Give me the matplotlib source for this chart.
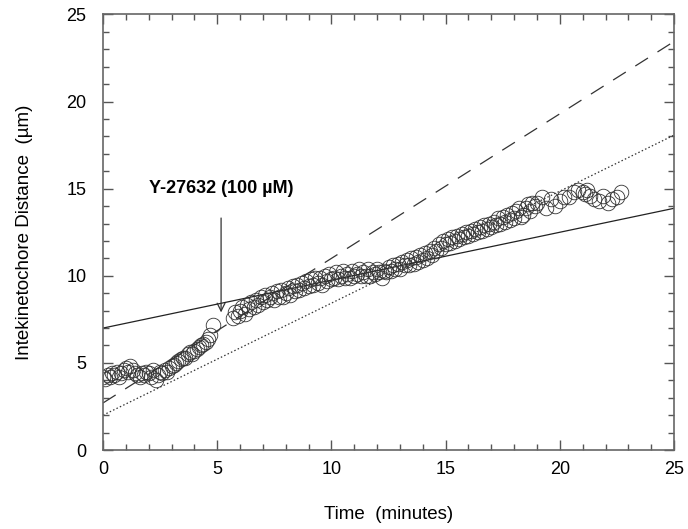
import numpy as np
import matplotlib
matplotlib.use('Agg')
import matplotlib.pyplot as plt
from matplotlib.ticker import MultipleLocator

plt.rcParams['font.family'] = ['Liberation Sans', 'DejaVu Sans']

# distance before drug (starts at t=0, every 0.1 min)
d_pre = [4.2, 4.1, 4.3, 4.2, 4.4, 4.3, 4.5, 4.2, 4.4, 4.6,
         4.7, 4.5, 4.8, 4.6, 4.4, 4.3, 4.2, 4.4, 4.3, 4.5,
         4.4, 4.2, 4.6, 4.0, 4.3, 4.5, 4.4, 4.6, 4.5, 4.7,
         4.8, 4.9, 5.0, 5.1, 5.2, 5.3, 5.3, 5.5, 5.6, 5.5,
         5.7, 5.8, 5.9, 6.0, 6.1, 6.2, 6.4, 6.6, 7.2]

# distance after drug (starts at t=5.7, every 0.1 min)
d_post = [7.6, 7.9, 7.7, 8.0, 8.2, 7.8, 8.3, 8.1, 8.5, 8.2,
          8.6, 8.3, 8.8, 8.5, 8.9, 8.6, 8.8, 9.0, 8.6, 9.1,
          8.8, 9.2, 8.8, 9.0, 9.3, 8.9, 9.4, 9.1, 9.5, 9.2,
          9.6, 9.3, 9.7, 9.4, 9.8, 9.5, 9.9, 9.6, 9.9, 9.5,
          10.0, 9.7, 10.1, 9.8, 9.9, 10.2, 9.8, 10.0, 10.3, 9.9,
          10.1, 9.9, 10.3, 10.0, 10.1, 10.4, 10.0, 10.2, 10.0, 10.4,
          10.0, 10.2, 10.1, 10.4, 10.2, 9.9, 10.3, 10.2, 10.5, 10.3,
          10.6, 10.4, 10.7, 10.4, 10.8, 10.6, 10.9, 10.6, 11.0, 10.7,
          11.1, 10.8, 11.2, 10.9, 11.3, 11.0, 11.4, 11.2, 11.6, 11.4,
          11.8, 11.6, 12.0, 11.8, 12.1, 11.9, 12.2, 12.0, 12.3, 12.1,
          12.4, 12.2, 12.5, 12.3, 12.6, 12.4, 12.7, 12.5, 12.8, 12.6,
          12.9, 12.7, 13.0, 12.8, 13.1, 12.9, 13.3, 13.0, 13.4, 13.1,
          13.5, 13.2, 13.6, 13.3, 13.7, 13.9, 13.4, 13.5, 13.9, 14.1,
          13.7, 14.2, 14.0]

# sparse tail
t_tail = [19.0, 19.2, 19.4, 19.6, 19.8, 20.0, 20.2, 20.4, 20.6, 20.8,
          21.0, 21.1, 21.2, 21.3, 21.5, 21.7, 21.9, 22.1, 22.3, 22.5, 22.7]
d_tail = [14.2, 14.5, 13.9, 14.4, 14.0, 14.3, 14.5, 14.5, 14.8, 14.9,
          14.8, 14.7, 14.9, 14.6, 14.4, 14.3, 14.6, 14.2, 14.4, 14.5, 14.8]

t_pre = np.arange(len(d_pre)) * 0.1
t_post = 5.7 + np.arange(len(d_post)) * 0.1

t_all = np.concatenate([t_pre, t_post, t_tail])
d_all = np.concatenate([d_pre, d_post, d_tail])

# fitted lines: (intercept, slope)
fit_solid = (7.0, 0.275)
fit_dashed = (2.7, 0.83)
fit_dotted = (2.0, 0.643)

fig = plt.figure(figsize=(6.88, 5.29), dpi=100)
ax = fig.add_axes([0.1497, 0.1493, 0.83, 0.8233])

xl = np.array([0, 25])
ax.plot(xl, fit_solid[0] + fit_solid[1] * xl, color='#222222', lw=0.9)
ax.plot(xl, fit_dashed[0] + fit_dashed[1] * xl, color='#333333', lw=0.9,
        dashes=(12, 9))
ax.plot(xl, fit_dotted[0] + fit_dotted[1] * xl, color='#333333', lw=0.9,
        dashes=(1.2, 1.8))

ax.plot(t_all, d_all, 'o', mfc='none', mec='#333333', mew=0.6, ms=10.5)

ax.annotate('Y-27632 (100 µM)', xy=(5.17, 7.9), xytext=(5.17, 15.0),
            ha='center', va='center', fontsize=13, fontweight='bold',
            arrowprops=dict(arrowstyle='->', color='#333333', lw=0.9,
                            shrinkA=13, shrinkB=0, mutation_scale=14))

ax.set_xlim(0, 25)
ax.set_ylim(0, 25)
ax.xaxis.set_major_locator(MultipleLocator(5))
ax.xaxis.set_minor_locator(MultipleLocator(1))
ax.yaxis.set_major_locator(MultipleLocator(5))
ax.yaxis.set_minor_locator(MultipleLocator(1))
ax.tick_params(which='both', direction='in', top=True, right=True,
               color='#555555', labelsize=13)
ax.tick_params(which='major', length=7, width=1)
ax.tick_params(which='minor', length=4.5, width=1)
ax.tick_params(axis='x', pad=8)
ax.tick_params(axis='y', pad=12)
for s in ax.spines.values():
    s.set_color('#666666')
    s.set_linewidth(1.2)

ax.set_xlabel('Time  (minutes)', fontsize=13.5, labelpad=20)
ax.set_ylabel('Intekinetochore Distance  (µm)', fontsize=13.5, labelpad=24)

fig.savefig('out.png', dpi=100)
